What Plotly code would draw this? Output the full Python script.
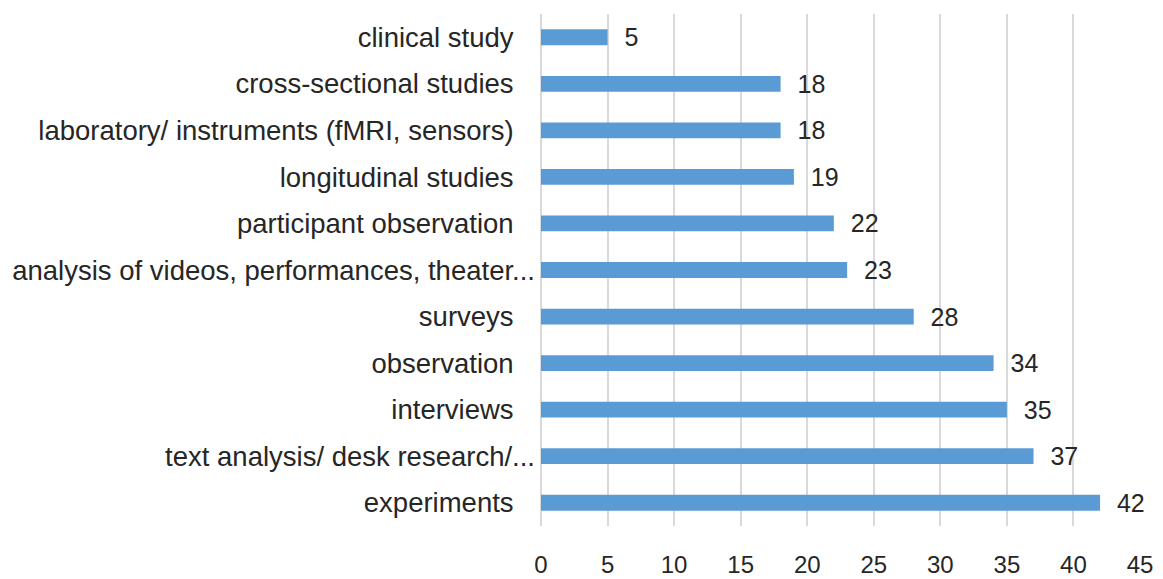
import plotly.graph_objects as go

categories = [
    "experiments",
    "text analysis/ desk research/...",
    "interviews",
    "observation",
    "surveys",
    "analysis of videos, performances, theater...",
    "participant observation",
    "longitudinal studies",
    "laboratory/ instruments (fMRI, sensors)",
    "cross-sectional studies",
    "clinical study",
]
values = [42, 37, 35, 34, 28, 23, 22, 19, 18, 18, 5]
x_ticks = [0, 5, 10, 15, 20, 25, 30, 35, 40, 45]

font_family = "Liberation Sans, Arial, sans-serif"
text_color = "#262626"

# Excel-style: truncated labels sit closer to the axis than full labels
tick_text = [c if c.endswith("...") else c + "\u2002\u00a0" for c in categories]

fig = go.Figure(
    go.Bar(
        x=values,
        y=categories,
        orientation="h",
        marker=dict(color="#5B9BD5", line=dict(width=0)),
        width=0.34,
        text=values,
        texttemplate="  %{x}",
        textposition="outside",
        constraintext="none",
        textfont=dict(size=25, color=text_color, family=font_family),
        cliponaxis=False,
    )
)

fig.update_layout(
    width=1163,
    height=579,
    margin=dict(l=541, r=23, t=14, b=53, autoexpand=False),
    paper_bgcolor="white",
    plot_bgcolor="white",
    showlegend=False,
    font=dict(family=font_family, size=25, color=text_color),
)
fig.update_xaxes(
    range=[0, 45],
    tickvals=x_ticks,
    showgrid=True,
    gridcolor="#D9D9D9",
    gridwidth=1.5,
    zeroline=True,
    zerolinecolor="#D9D9D9",
    zerolinewidth=1.5,
    showline=False,
    ticks="outside",
    ticklen=17,
    tickcolor="rgba(0,0,0,0)",
    tickfont=dict(size=24, color=text_color),
    automargin=False,
    fixedrange=True,
)
fig.update_yaxes(
    categoryorder="array",
    categoryarray=categories,
    tickvals=categories,
    ticktext=tick_text,
    showgrid=False,
    showline=False,
    ticks="",
    ticklabelstandoff=5,
    tickfont=dict(size=27.5, color=text_color),
    automargin=False,
    fixedrange=True,
)

fig.write_html(
    "out.html",
    config={"displayModeBar": False},
    post_script="document.body.style.margin='0';document.body.style.overflow='hidden';",
)
